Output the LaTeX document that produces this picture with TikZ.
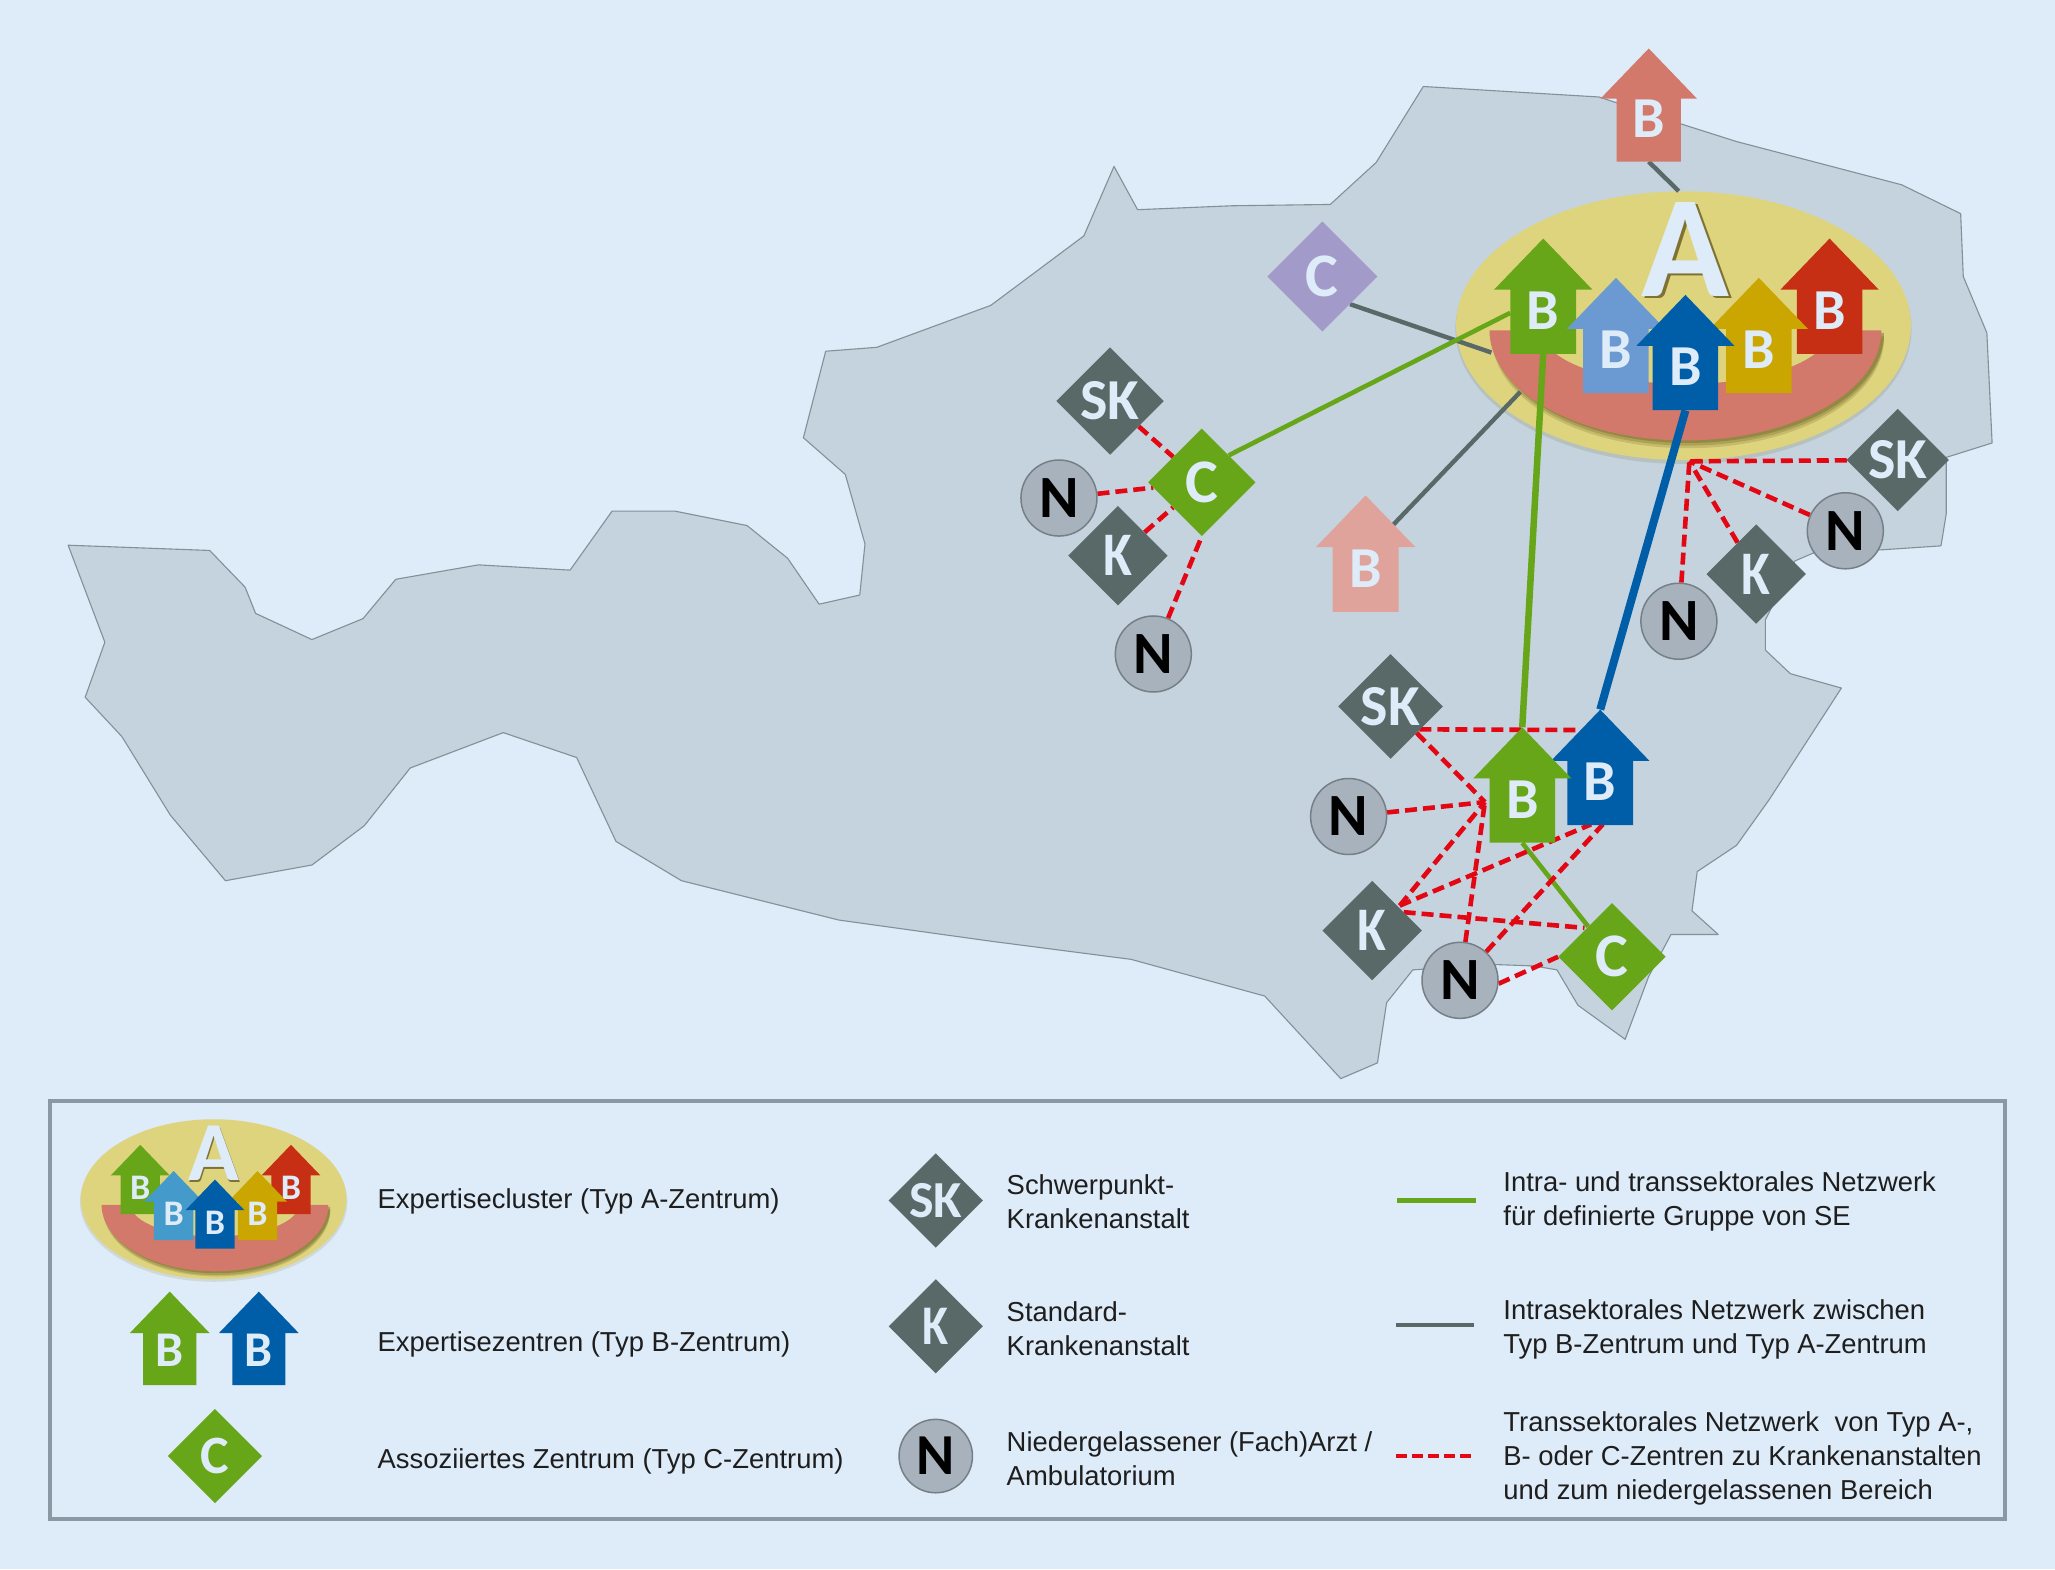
\documentclass[tikz,border=0pt]{standalone}
\usepackage{fontspec}
\setmainfont{Liberation Sans}
\newfontfamily\kf{Carlito}
\usetikzlibrary{shapes.geometric}
\pgfdeclarelayer{mapl}\pgfdeclarelayer{cll}\pgfdeclarelayer{conn}
\pgfsetlayers{mapl,cll,conn,main}
\definecolor{pagebg}{HTML}{DEEBF8}
\definecolor{mapc}{HTML}{C4D3DE}
\definecolor{mapedge}{HTML}{7F9298}
\definecolor{yel}{HTML}{DFD47E}
\definecolor{sal}{HTML}{D2796C}
\definecolor{grn}{HTML}{66A618}
\definecolor{lbl}{HTML}{6B9AD2}
\definecolor{lbl2}{HTML}{449ACA}
\definecolor{dbl}{HTML}{005EA8}
\definecolor{gld}{HTML}{CBA500}
\definecolor{rdd}{HTML}{C72F14}
\definecolor{lpk}{HTML}{E0A39B}
\definecolor{pur}{HTML}{A29AC8}
\definecolor{dgr}{HTML}{596968}
\definecolor{cgr}{HTML}{A8B2BD}
\definecolor{cedge}{HTML}{777F86}
\definecolor{rednet}{HTML}{E30613}
\definecolor{shd}{HTML}{7D7232}
\definecolor{legline}{HTML}{8A98A4}
\definecolor{ltxt}{HTML}{1E1E1E}
\def\upx{1.3106pt}
\newcommand\symf[1]{\fontsize{#1}{#1}\selectfont\kf\bfseries}
\newcommand\kay{\scalebox{.85}[1]{K}}
\tikzset{
  dia/.style={diamond,aspect=1,inner sep=0pt,text=pagebg},
  circ/.style={circle,inner sep=0pt,fill=cgr,draw=cedge,line width=1.5pt,text=black},
  red net/.style={draw=rednet,line width=4.6pt,dash pattern=on 12pt off 6pt},
  grey net/.style={draw=dgr,line width=4.4pt},
  grn thin/.style={draw=grn,line width=4.6pt},
  leg/.style={anchor=west,align=left,inner sep=0pt,text=ltxt,font=\fontsize{27.4}{34}\selectfont},
  hlab/.style={inner sep=0pt,text=pagebg},
}
% house: name, cx, tip y, scale, colour, label size
\newcommand\hse[6]{%
\begin{scope}[shift={(#2,#3)},scale=#4]
\fill[#5] (0,0)--(37.5,39)--(25,39)--(25,88)--(-25,88)--(-25,39)--(-37.5,39)--cycle;
\node[inner sep=0pt,minimum width={50*#4*\upx},minimum height={88*#4*\upx}] (#1) at (0,44) {};
\node[hlab,font=\symf{#6}] (#1-l) at (0,55) {B};
\end{scope}}
% bowl crescent: colour, opacity, cx, top y, outer rx, outer ry, inner rx, inner ry, inner cx
\newcommand\bowlfill[9]{\fill[#1,opacity=#2] (#3-#5,#4) arc[start angle=180,end angle=0,x radius=#5,y radius=#6] -- (#9+#7,#4) arc[start angle=0,end angle=180,x radius=#7,y radius=#8] -- cycle;}
\begin{document}
\begin{tikzpicture}[x=1.3106pt,y=-1.3106pt]
\useasboundingbox (0,0) rectangle (1568,1197.2);
\begin{pgfonlayer}{mapl}
\fill[pagebg] (0,0) rectangle (1568,1197.2);
\draw[fill=mapc,draw=mapedge,line width=1.1pt,line join=round]
 (52,416)--(160,420)--(187,448)--(195,468)--(238,488)--(277,472)--(302,442)--(365,431)--(435,435)--(467,390)--(515,390)--(570,401)--(601,426)--(625,461)--(656,454)--(660,415)--(645,362)--(613,334)--(630,268)--(669,265)--(756,233)--(827,180)--(850,127)--(868,160)--(940,157)--(1015,156)--(1050,124)--(1086,66)--(1220,74)--(1284,95)--(1325,108)--(1451,141)--(1496,163)--(1498,211)--(1516,254)--(1520,338)--(1485,349)--(1485,392)--(1481,416.5)--(1436,419.5)--(1383.5,422)--(1369.5,428)--(1347,473)--(1347,496)--(1366,514)--(1405,525)--(1350,610)--(1325,645)--(1295,665)--(1291,695)--(1311,713)--(1275,713)--(1258,745)--(1240,793)--(1204,767)--(1188,740)--(1170,737)--(1142,736)--(1078,740)--(1058,765)--(1051,811)--(1023,823)--(965,760)--(863,732)--(755,718)--(640,702)--(520,672)--(470,642)--(440,578)--(384,559)--(313,586)--(278,630)--(238,660)--(172,672)--(130,622)--(93,562)--(65,532)--(80,490)--cycle;
\end{pgfonlayer}
% ---- main cluster
\begin{pgfonlayer}{cll}
\fill[shd,opacity=.18] (1284.5,251) ellipse[x radius=174,y radius=103];
\node[ellipse,fill=yel,inner sep=0pt,minimum width={347*\upx},minimum height={205*\upx}] (cl) at (1284.5,248.5) {};
\bowlfill{shd}{.25}{1288}{258}{149.5}{84}{110}{41}{1286}
\bowlfill{shd}{.35}{1288}{256}{149.5}{84}{110}{41}{1286}
\bowlfill{shd}{.5}{1288}{254}{149.5}{84}{110}{41}{1286}
\bowlfill{sal}{1}{1286}{252}{149.5}{84}{110}{41}{1286}
\end{pgfonlayer}
\node[text=shd,inner sep=0pt,font=\symf{145}] (Ash) at (1288,192) {A};
\node[text=pagebg,inner sep=0pt,font=\symf{145}] (A) at (1286,190) {A};
\hse{gA}{1177.5}{182}{1}{grn}{58}
\hse{rA}{1396}{182}{1}{rdd}{58}
\hse{lA}{1233}{212}{1}{lbl}{58}
\hse{yA}{1342}{212}{1}{gld}{58}
\hse{bA}{1286}{225}{1}{dbl}{58}
% ---- outlying shapes
\hse{pB}{1258}{37}{.98}{sal}{58}
\hse{qB}{1042}{378}{1.01}{lpk}{58}
\hse{bB}{1221}{541.5}{1}{dbl}{58}
\hse{gB}{1161.5}{555}{1}{grn}{58}
\node[dia,fill=pur,minimum size={84*\upx},font=\symf{62}] (cp) at (1009,211) {C};
\node[dia,fill=dgr,minimum size={82*\upx},font=\symf{58}] (sk1) at (847,306) {SK};
\node[dia,fill=grn,minimum size={82*\upx},font=\symf{62}] (c1) at (917,368) {C};
\node[dia,fill=dgr,minimum size={76*\upx},font=\symf{62}] (k1) at (853,424) {\kay};
\node[dia,fill=dgr,minimum size={78*\upx},font=\symf{58}] (sk2) at (1448,351) {SK};
\node[dia,fill=dgr,minimum size={76*\upx},font=\symf{62}] (k2) at (1340,438) {\kay};
\node[dia,fill=dgr,minimum size={80*\upx},font=\symf{58}] (sk3) at (1061,539) {SK};
\node[dia,fill=dgr,minimum size={76*\upx},font=\symf{62}] (k3) at (1047,710) {\kay};
\node[dia,fill=grn,minimum size={82*\upx},font=\symf{62}] (c3) at (1230,730) {C};
\node[circ,minimum size={58*\upx},font=\symf{60}] (n1) at (808,380) {N};
\node[circ,minimum size={58*\upx},font=\symf{60}] (n2) at (880,499) {N};
\node[circ,minimum size={58*\upx},font=\symf{60}] (n3) at (1408,405) {N};
\node[circ,minimum size={58*\upx},font=\symf{60}] (n4) at (1281,474) {N};
\node[circ,minimum size={58*\upx},font=\symf{60}] (n5) at (1029,623) {N};
\node[circ,minimum size={58*\upx},font=\symf{60}] (n6) at (1114,748) {N};
% ---- connector end points
\coordinate (hubA) at (1289,352);
\coordinate (hubG) at (1133,612);
\coordinate (bowlU) at (1138,269);
\coordinate (bowlD) at (1160,299);
\coordinate (blueU) at (1203,557);
\coordinate (blueD1) at (1214,629);
\coordinate (blueD2) at (1223,629);
\coordinate (skR) at (1083,556.5);
\coordinate (c3U) at (1209,708);
\coordinate (kR) at (1068,691);
\coordinate (kS) at (1071,696);
\begin{pgfonlayer}{conn}
\draw[grey net] (pB.south) -- (cl.92);
\draw[grey net] (cp.-45) -- (bowlU);
\draw[grey net] (qB.center) -- (bowlD);
\draw[grn thin] (c1.45) -- (gA);
\draw[draw=grn,line width=6.5pt] (gA.south) -- (gB.north);
\draw[draw=dbl,line width=8pt] (bA.south) -- (bB.north);
\draw[grn thin] (gB.south) -- (c3);
\draw[red net] (sk1) -- (c1);
\draw[red net] (n1) -- (c1);
\draw[red net] (k1) -- (c1);
\draw[red net] (n2) -- (c1.south);
\draw[red net] (sk2) -- (hubA);
\draw[red net] (n3) -- (hubA);
\draw[red net] (k2) -- (hubA);
\draw[red net] (n4) -- (hubA);
\draw[red net] (skR) -- (blueU);
\draw[red net] (sk3) -- (hubG);
\draw[red net] (n5) -- (hubG);
\draw[red net] (kR) -- (hubG);
\draw[red net] (n6) -- (hubG);
\draw[red net] (kR) -- (blueD1);
\draw[red net] (n6) -- (blueD2);
\draw[red net] (kS) -- (c3U);
\draw[red net] (n6.-5) -- (c3.west);
\end{pgfonlayer}
% ---- legend
\draw[draw=legline,line width=3.5pt] (38,840) rectangle (1530,1159);
\fill[shd,opacity=.15] (163,917) ellipse[x radius=102,y radius=61];
\node[ellipse,fill=yel,inner sep=0pt,minimum width={202.6*\upx},minimum height={122*\upx}] (lcl) at (163,915) {};
\bowlfill{shd}{.25}{165.5}{923.4}{86.5}{50.6}{64}{24}{164}
\bowlfill{shd}{.35}{165.5}{922.4}{86.5}{50.6}{64}{24}{164}
\bowlfill{shd}{.5}{165.5}{920.9}{86.5}{50.6}{64}{24}{164}
\bowlfill{sal}{1}{164}{919.4}{86.5}{50.6}{64}{24}{164}
\node[text=shd,inner sep=0pt,font=\symf{84}] (lAsh) at (164.3,881.3) {A};
\node[text=pagebg,inner sep=0pt,font=\symf{84}] (lA) at (163,880) {A};
\hse{lg}{107}{873.5}{.6}{grn}{36}
\hse{lr}{222}{873.5}{.6}{rdd}{36}
\hse{ll}{132.5}{893.5}{.6}{lbl2}{36}
\hse{ly}{196.5}{893.5}{.6}{gld}{36}
\hse{lb}{164}{900}{.6}{dbl}{36}
\hse{lgg}{129.5}{985.5}{.81}{grn}{50}
\hse{lbb}{197.5}{985.5}{.81}{dbl}{50}
\node[dia,fill=grn,minimum size={72*\upx},font=\symf{54}] (lc) at (164,1111) {C};
\node[dia,fill=dgr,minimum size={72*\upx},font=\symf{52}] (lsk) at (714,916) {SK};
\node[dia,fill=dgr,minimum size={72*\upx},font=\symf{56}] (lk) at (714,1012) {\kay};
\node[circ,minimum size={56*\upx},font=\symf{58}] (ln) at (714,1111) {N};
\node[leg] (t1) at (288,917) {Expertisecluster (Typ A-Zentrum)};
\node[leg] (t2) at (288,1026) {Expertisezentren (Typ B-Zentrum)};
\node[leg] (t3) at (288,1115) {Assoziiertes Zentrum (Typ  C-Zentrum)};
\node[leg] (t4) at (768,917) {Schwerpunkt-\\Krankenanstalt};
\node[leg] (t5) at (768,1014) {Standard-\\Krankenanstalt};
\node[leg] (t6) at (768,1113) {Niedergelassener (Fach)Arzt /\\Ambulatorium};
\node[leg] (t7) at (1147,917) {Intra- und transsektorales Netzwerk\\für definierte Gruppe von SE};
\node[leg] (t8) at (1147,1014) {Intrasektorales Netzwerk zwischen\\Typ B-Zentrum und Typ A-Zentrum};
\node[leg] (t9) at (1147,1113) {Transsektorales Netzwerk\hspace{8pt} von Typ A-,\\B- oder C-Zentren zu Krankenanstalten\\und zum niedergelassenen Bereich};
\coordinate (la) at (1066,916); \coordinate (lb1) at (1126,916);
\coordinate (lc1) at (1065,1011); \coordinate (lc2) at (1125,1011);
\coordinate (ld1) at (1065,1111); \coordinate (ld2) at (1125,1111);
\draw[draw=grn,line width=5.5pt] (la) -- (lb1);
\draw[draw=dgr,line width=4pt] (lc1) -- (lc2);
\draw[draw=rednet,line width=4.5pt,dash pattern=on 11pt off 5pt] (ld1) -- (ld2);
\end{tikzpicture}
\end{document}
